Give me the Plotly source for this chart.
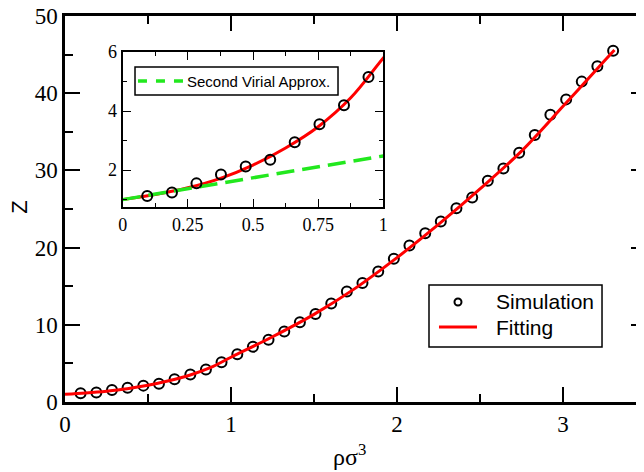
import plotly.graph_objects as go

# simulation points, rho*sigma^3 and compressibility Z
rho = [0.094, 0.189, 0.283, 0.377, 0.472, 0.566, 0.660, 0.755, 0.849, 0.943,
       1.038, 1.132, 1.226, 1.321, 1.415, 1.509, 1.604, 1.698, 1.792, 1.887,
       1.981, 2.075, 2.170, 2.264, 2.358, 2.453, 2.547, 2.641, 2.736, 2.830,
       2.924, 3.019, 3.113, 3.207, 3.302]
z_sim = [1.12, 1.24, 1.55, 1.85, 2.12, 2.35, 2.94, 3.55, 4.20, 5.15,
         6.18, 7.15, 8.07, 9.14, 10.33, 11.40, 12.75, 14.30, 15.40, 16.90,
         18.55, 20.27, 21.85, 23.39, 25.10, 26.50, 28.66, 30.24, 32.30, 34.60,
         37.20, 39.20, 41.50, 43.50, 45.50]

# fitted curve
fit_rho = [0, 0.125, 0.25, 0.375, 0.5, 0.625, 0.75, 0.875, 1.0, 1.25, 1.5,
           1.75, 2.0, 2.25, 2.5, 2.75, 3.0, 3.25, 3.31]
fit_z = [1.0, 1.17, 1.40, 1.72, 2.17, 2.75, 3.47, 4.45, 5.8, 8.45, 11.35,
         14.75, 18.7, 23.0, 27.6, 32.5, 38.3, 44.2, 45.6]

# second virial approximation
vir_rho = [0, 1.0]
vir_z = [1.0, 2.48]

legend_main = ["Simulation", "Fitting"]
legend_inset = "Second Virial Approx."

serif = "Times New Roman"
sans = "Liberation Sans"
RED = "#ff0000"
GREEN = "#22e81e"

fig = go.Figure()

fig.add_trace(go.Scatter(x=rho, y=z_sim, mode="markers", showlegend=False,
                         marker=dict(symbol="circle-open", size=10, color="black",
                                     line=dict(width=2, color="black"))))
fig.add_trace(go.Scatter(x=fit_rho, y=fit_z, mode="lines", showlegend=False,
                         line=dict(color=RED, width=3, shape="spline")))
# dummy for right side ticks
fig.add_trace(go.Scatter(x=[None], y=[None], xaxis="x", yaxis="y3", showlegend=False))

# inset
fig.add_trace(go.Scatter(x=fit_rho, y=fit_z, mode="lines", xaxis="x2", yaxis="y2",
                         showlegend=False,
                         line=dict(color=RED, width=3, shape="spline")))
fig.add_trace(go.Scatter(x=vir_rho, y=vir_z, mode="lines", xaxis="x2", yaxis="y2",
                         showlegend=False,
                         line=dict(color=GREEN, width=3.5, dash="18px,8px")))
fig.add_trace(go.Scatter(x=rho, y=z_sim, mode="markers", xaxis="x2", yaxis="y2",
                         showlegend=False,
                         marker=dict(symbol="circle-open", size=10, color="black",
                                     line=dict(width=2, color="black"))))

ax_main = dict(showline=True, linecolor="black", linewidth=2.5, ticks="inside",
               ticklen=15, tickwidth=1.5, tickcolor="black", showgrid=False,
               zeroline=False, automargin=False, ticklabeloverflow="allow",
               tickfont=dict(family=serif, size=23, color="black"))
ax_in = dict(showline=True, linecolor="black", linewidth=2, ticks="inside",
             ticklen=8, tickwidth=1.2, tickcolor="black", showgrid=False,
             zeroline=False, mirror="ticks", automargin=False,
             ticklabeloverflow="allow",
             tickfont=dict(family=serif, size=18, color="black"))

# hand made legends (paper coords of the plot area)
shapes = [
    dict(type="rect", xref="paper", yref="paper", x0=0.6265, x1=0.9243,
         y0=0.1425, y1=0.3031, line=dict(color="black", width=1.5),
         fillcolor="white", layer="above"),
    dict(type="circle", xref="paper", yref="paper", xsizemode="pixel",
         ysizemode="pixel", xanchor=0.6764, yanchor=0.2591,
         x0=-3.5, x1=3.5, y0=-3.5, y1=3.5, line=dict(color="black", width=2),
         layer="above"),
    dict(type="line", xref="paper", yref="paper", x0=0.6437, x1=0.7091,
         y0=0.1943, y1=0.1943, line=dict(color=RED, width=3), layer="above"),
    dict(type="rect", xref="paper", yref="paper", x0=0.1205, x1=0.4699,
         y0=0.7953, y1=0.8679, line=dict(color="black", width=1.5),
         fillcolor="white", layer="above"),
    dict(type="line", xref="paper", yref="paper", x0=0.1256, x1=0.2048,
         y0=0.8316, y1=0.8316, line=dict(color=GREEN, width=3.5, dash="9px,9px"),
         layer="above"),
]

annotations = [
    dict(text=legend_main[0], x=0.7384, y=0.2591, xanchor="left", yanchor="middle"),
    dict(text=legend_main[1], x=0.7384, y=0.1943, xanchor="left", yanchor="middle"),
]
for a in annotations:
    a.update(xref="paper", yref="paper", showarrow=False,
             font=dict(family=sans, size=21, color="black"))
annotations.append(dict(text=legend_inset, x=0.2065, y=0.8316, xref="paper",
                        yref="paper", xanchor="left", yanchor="middle",
                        showarrow=False,
                        font=dict(family=sans, size=15, color="black")))
annotations.append(dict(text="Z", x=-0.078, y=0.5052, xref="paper", yref="paper",
                        xanchor="center", yanchor="middle",
                        showarrow=False, textangle=-90,
                        font=dict(family=sans, size=22, color="black")))
annotations.append(dict(text="ρσ<sup>3</sup>", x=0.49, y=-0.1373, xref="paper",
                        yref="paper", xanchor="center", yanchor="middle",
                        showarrow=False,
                        font=dict(family=serif, size=24, color="black")))

# the page body adds 8px, so margins are shifted to compensate
fig.update_layout(
    width=644, height=472,
    margin=dict(l=57, r=6, t=8, b=78),
    paper_bgcolor="white", plot_bgcolor="white",
    showlegend=False,
    xaxis=dict(ax_main, range=[0, 3.5], dtick=1, mirror="ticks", anchor="y",
               minor=dict(dtick=0.5, ticklen=8, ticks="inside", tickwidth=1.5,
                          tickcolor="black")),
    yaxis=dict(ax_main, range=[0, 50], dtick=10, anchor="x",
               minor=dict(dtick=5, ticklen=8, ticks="inside", tickwidth=1.5,
                          tickcolor="black")),
    yaxis3=dict(ax_main, range=[0, 50], dtick=10, overlaying="y", side="right",
                anchor="x", showline=False, showticklabels=False,
                minor=dict(dtick=5, ticklen=8, ticks="inside", tickwidth=1.5,
                           tickcolor="black")),
    xaxis2=dict(ax_in, domain=[0.0993, 0.5479], anchor="y2", range=[0, 1],
                dtick=0.25,
                minor=dict(dtick=0.125, ticklen=4, ticks="inside", tickcolor="black")),
    yaxis2=dict(ax_in, domain=[0.5052, 0.9067], anchor="x2", range=[0.75, 6],
                tick0=0, dtick=2,
                minor=dict(tick0=0, dtick=1, ticklen=4, ticks="inside",
                           tickcolor="black")),
    shapes=shapes,
    annotations=annotations,
)

fig.write_html("out.html")
